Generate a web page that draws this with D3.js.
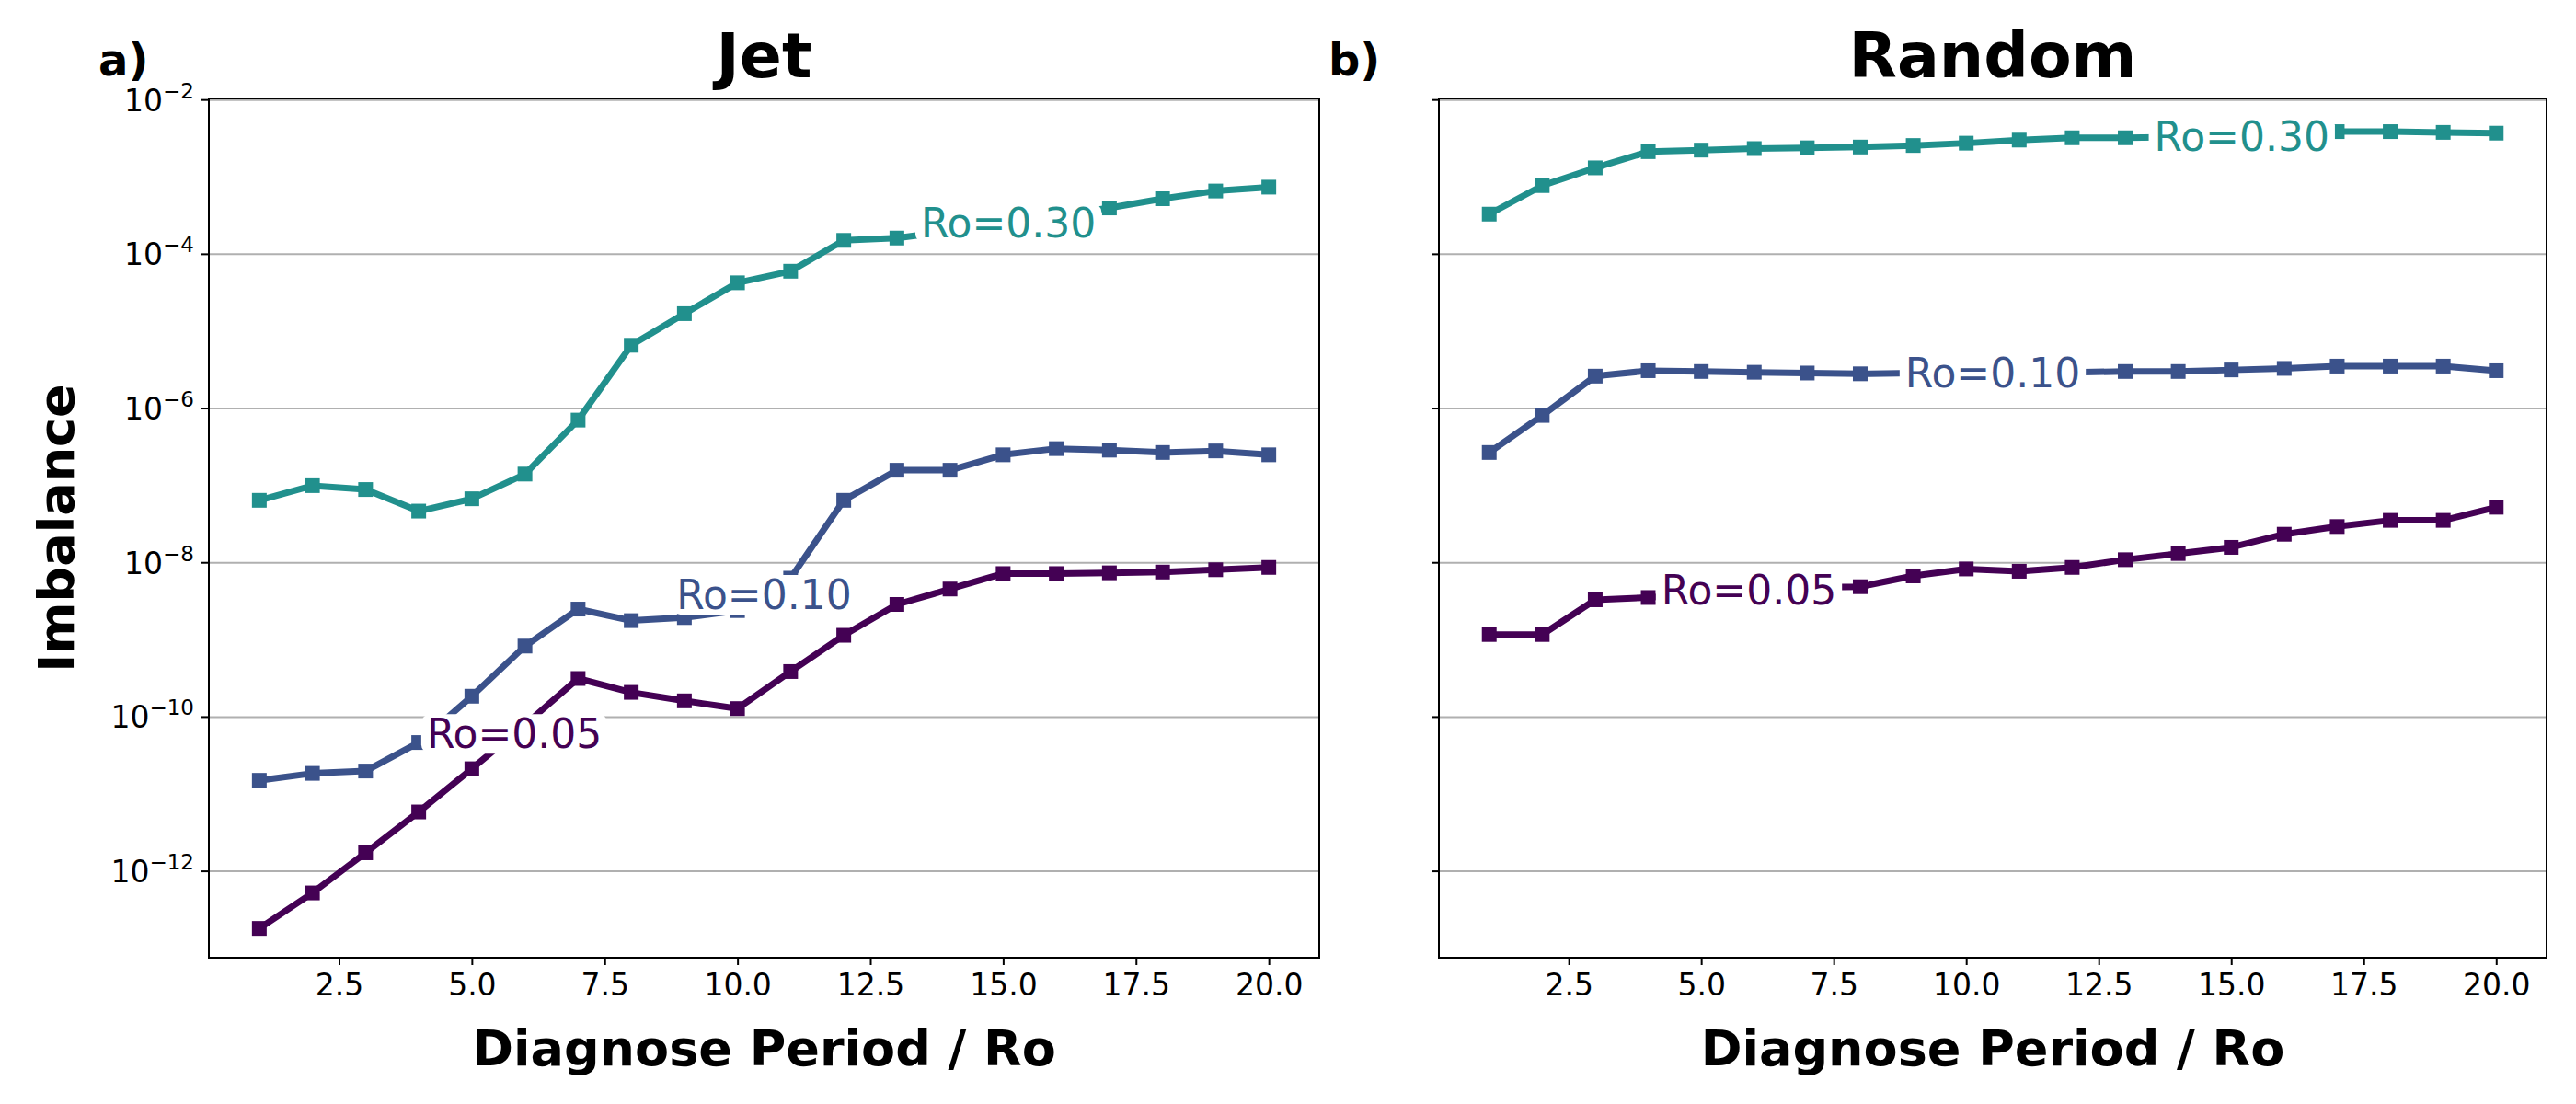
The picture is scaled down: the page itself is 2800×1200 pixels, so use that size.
<!DOCTYPE html>
<html>
<head>
<meta charset="utf-8">
<script src="https://cdn.jsdelivr.net/npm/d3@7"></script>
<style>
  body { margin: 0; background: #fff; }
  text { font-family: "DejaVu Sans", sans-serif; }
</style>
</head>
<body>
<svg id="chart" width="2800" height="1200"></svg>
<script>
// --- data (log10 of imbalance) ---------------------------------------
var periods = d3.range(1, 21);
var rossby = ['0.05', '0.10', '0.30'];
var colors = ['#440154', '#3b528b', '#21908d'];

var jet005 = [-12.74, -12.28, -11.76, -11.23, -10.67, -10.1, -9.50, -9.68, -9.79, -9.89,
              -9.41, -8.94, -8.54, -8.34, -8.14, -8.14, -8.13, -8.12, -8.09, -8.06];
var jet010 = [-10.82, -10.73, -10.70, -10.33, -9.73, -9.08, -8.60, -8.75, -8.71, -8.62,
              -8.2, -7.19, -6.80, -6.80, -6.60, -6.52, -6.54, -6.57, -6.55, -6.60];
var jet030 = [-7.19, -7.00, -7.05, -7.33, -7.17, -6.85, -6.15, -5.18, -4.77, -4.37,
              -4.22, -3.82, -3.79, -3.7, -3.6, -3.5, -3.4, -3.28, -3.18, -3.13];

var rnd005 = [-8.93, -8.93, -8.48, -8.45, -8.40, -8.35, -8.32, -8.31, -8.17, -8.08,
              -8.11, -8.06, -7.96, -7.88, -7.80, -7.63, -7.53, -7.45, -7.45, -7.28];
var rnd010 = [-6.57, -6.09, -5.58, -5.51, -5.52, -5.53, -5.54, -5.55, -5.54, -5.54,
              -5.53, -5.53, -5.52, -5.52, -5.50, -5.48, -5.45, -5.45, -5.45, -5.51];
var rnd030 = [-3.48, -3.11, -2.88, -2.67, -2.65, -2.63, -2.62, -2.61, -2.59, -2.56,
              -2.52, -2.49, -2.49, -2.48, -2.47, -2.45, -2.41, -2.41, -2.42, -2.43];

// label x positions (inline labels)
var jetLabelX = [5.8, 10.5, 15.1];
var rndLabelX = [5.9, 10.5, 15.2];

var xTicks = [2.5, 5, 7.5, 10, 12.5, 15, 17.5, 20];
var yTickExps = [-12, -10, -8, -6, -4, -2];

// --- layout ----------------------------------------------------------
var svg = d3.select('#chart');
var plotTop = 107, plotBottom = 1041;

var y = d3.scaleLinear().domain([-13.12, -1.98]).range([plotBottom, plotTop]);

function drawPanel(left, right, series, labelXs, title, letter, showYLabels) {
    var x = d3.scaleLinear().domain([0.05, 20.95]).range([left, right]);
    var g = svg.append('g');

    // grid
    g.selectAll('line.grid').data(yTickExps).enter().append('line')
        .attr('x1', left).attr('x2', right)
        .attr('y1', function (d) { return y(d); })
        .attr('y2', function (d) { return y(d); })
        .attr('stroke', '#b0b0b0').attr('stroke-width', 2);

    // x axis
    var xa = g.append('g').attr('transform', 'translate(0,' + plotBottom + ')')
        .call(d3.axisBottom(x).tickValues(xTicks).tickFormat(d3.format('.1f'))
              .tickSize(8).tickPadding(10));
    xa.select('.domain').remove();
    xa.selectAll('line').attr('stroke-width', 2);
    xa.selectAll('text').attr('font-size', 33).attr('fill', '#000')
        .attr('font-family', 'DejaVu Sans');

    // y ticks
    var ya = g.append('g');
    ya.selectAll('line').data(yTickExps).enter().append('line')
        .attr('x1', left - 8).attr('x2', left)
        .attr('y1', function (d) { return y(d); })
        .attr('y2', function (d) { return y(d); })
        .attr('stroke', '#000').attr('stroke-width', 2);
    if (showYLabels) {
        var t = ya.selectAll('text').data(yTickExps).enter().append('text')
            .attr('x', left - 16)
            .attr('y', function (d) { return y(d) + 12; })
            .attr('text-anchor', 'end').attr('font-size', 33);
        t.append('tspan').text('10');
        t.append('tspan').attr('dy', -14).attr('font-size', 23)
            .text(function (d) { return '\u2212' + Math.abs(d); });
    }

    // lines and markers
    var line = d3.line()
        .x(function (d, i) { return x(periods[i]); })
        .y(function (d) { return y(d); });

    series.forEach(function (vals, k) {
        g.append('path').datum(vals).attr('d', line)
            .attr('fill', 'none').attr('stroke', colors[k])
            .attr('stroke-width', 7).attr('stroke-linejoin', 'round');
        g.selectAll('rect.m' + k).data(vals).enter().append('rect')
            .attr('x', function (d, i) { return x(periods[i]) - 8; })
            .attr('y', function (d) { return y(d) - 8; })
            .attr('width', 16).attr('height', 16)
            .attr('fill', colors[k]);
    });

    // inline labels
    series.forEach(function (vals, k) {
        var lx = labelXs[k];
        var i0 = Math.floor(lx) - 1, f = lx - Math.floor(lx);
        var ly = vals[i0] + (vals[i0 + 1] - vals[i0]) * f;
        var lab = g.append('g')
            .attr('transform', 'translate(' + x(lx) + ',' + y(ly) + ')');
        var txt = lab.append('text').attr('text-anchor', 'middle')
            .attr('dy', '0.36em').attr('font-size', 44)
            .attr('fill', colors[k]).text('Ro=' + rossby[k]);
        var bb = txt.node().getBBox();
        lab.insert('rect', 'text')
            .attr('x', bb.x - 6).attr('y', bb.y + 4)
            .attr('width', bb.width + 12).attr('height', bb.height - 8)
            .attr('rx', 10).attr('fill', '#fff');
    });

    // frame
    g.append('rect').attr('x', left).attr('y', plotTop)
        .attr('width', right - left).attr('height', plotBottom - plotTop)
        .attr('fill', 'none').attr('stroke', '#000').attr('stroke-width', 2);

    // titles
    g.append('text').attr('x', (left + right) / 2).attr('y', 84)
        .attr('text-anchor', 'middle').attr('font-size', 68)
        .attr('font-weight', 'bold').text(title);
    g.append('text').attr('x', left - 120).attr('y', 82)
        .attr('font-size', 48).attr('font-weight', 'bold').text(letter);
    g.append('text').attr('x', (left + right) / 2).attr('y', 1158)
        .attr('text-anchor', 'middle').attr('font-size', 54)
        .attr('font-weight', 'bold').text('Diagnose Period / Ro');
}

drawPanel(227, 1434, [jet005, jet010, jet030], jetLabelX, 'Jet', 'a)', true);
drawPanel(1564, 2768, [rnd005, rnd010, rnd030], rndLabelX, 'Random', 'b)', false);

svg.append('text')
    .attr('transform', 'translate(80,' + ((plotTop + plotBottom) / 2) + ') rotate(-90)')
    .attr('text-anchor', 'middle').attr('font-size', 54)
    .attr('font-weight', 'bold').text('Imbalance');
</script>
</body>
</html>
